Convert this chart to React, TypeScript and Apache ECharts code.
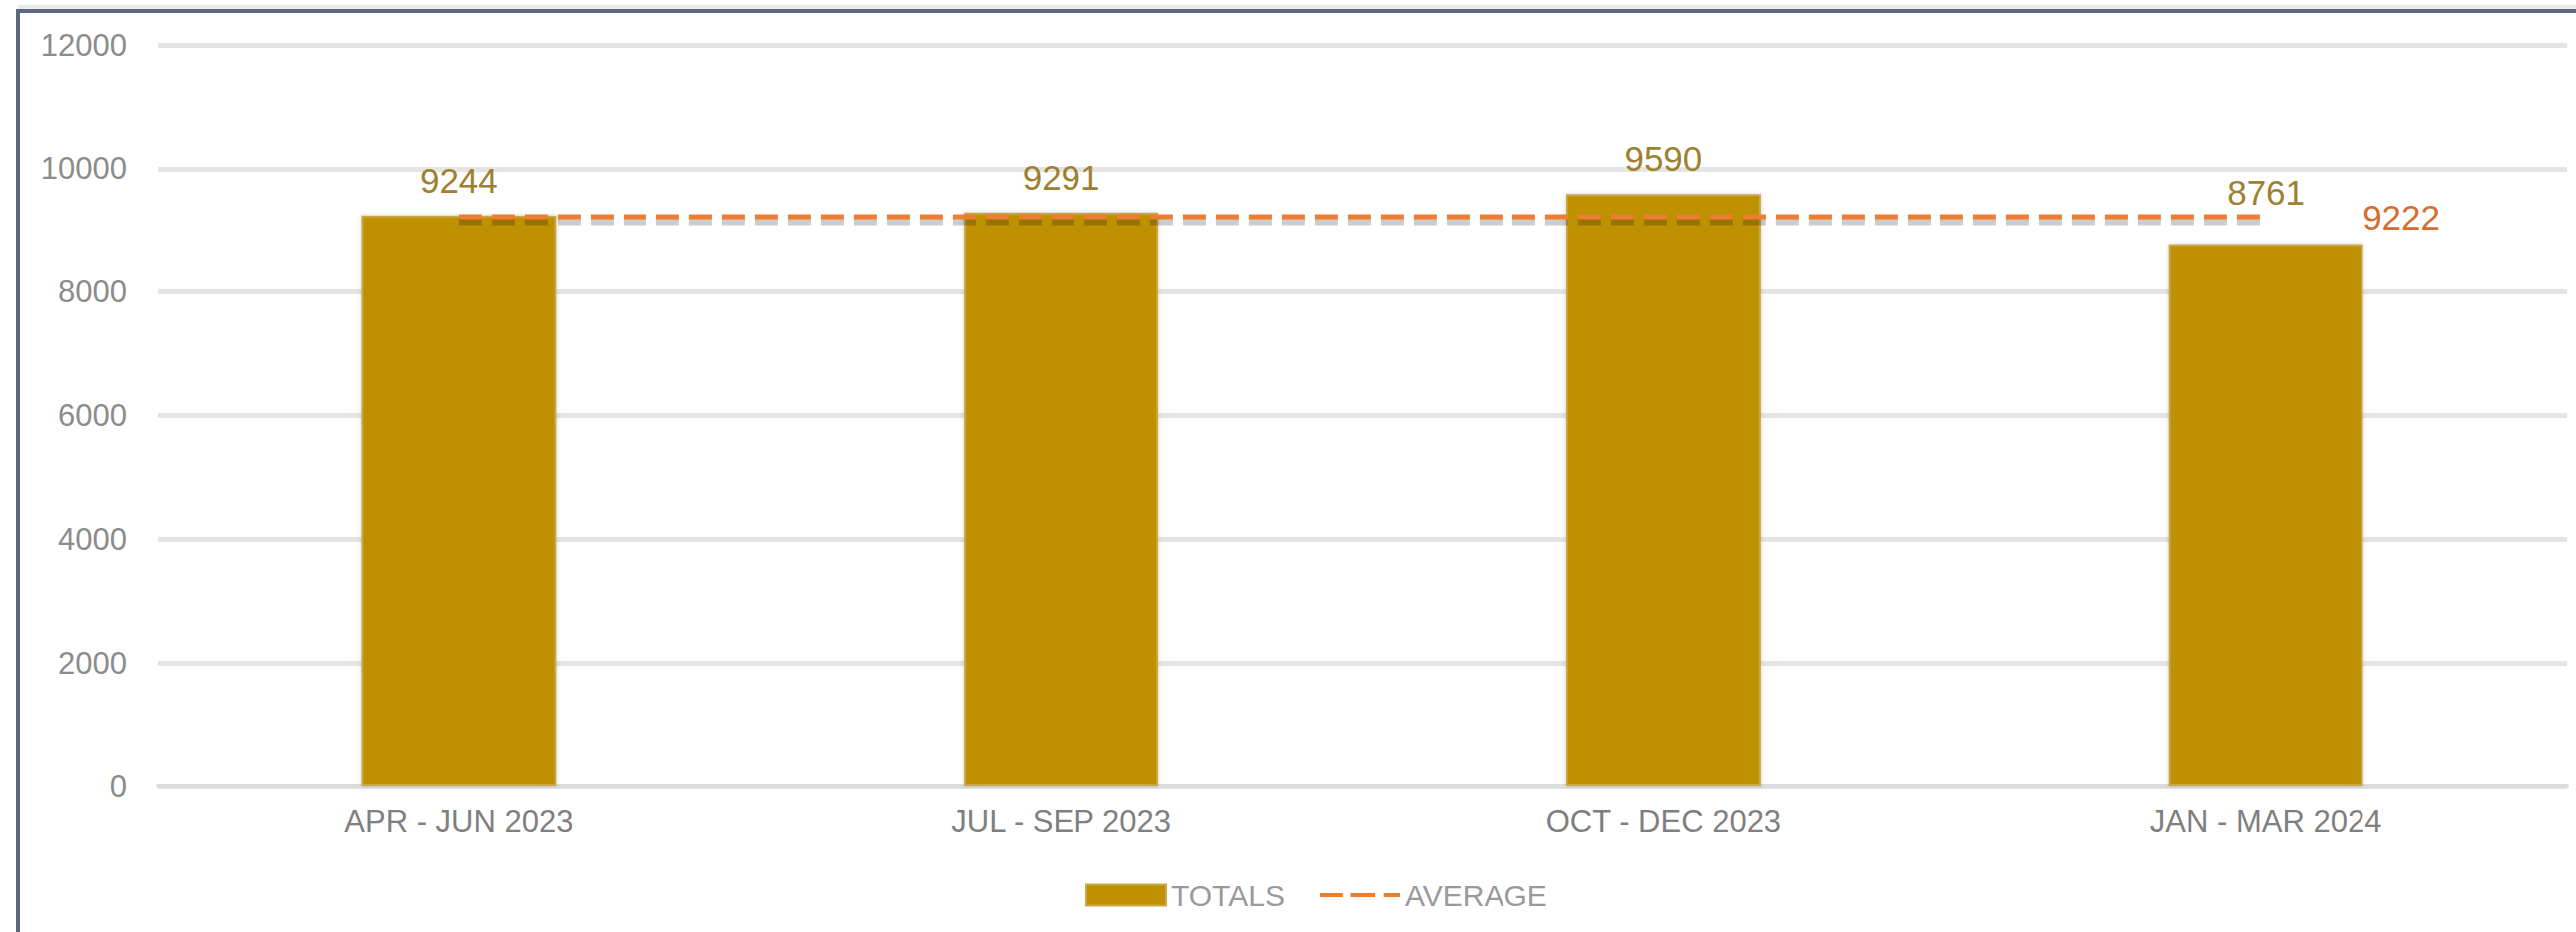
import React, { useEffect, useRef } from "react";
import * as echarts from "echarts";

const categories = ["APR - JUN 2023", "JUL - SEP 2023", "OCT - DEC 2023", "JAN - MAR 2024"];
const totalsValues = [9244, 9291, 9590, 8761];
const averageValues = [9222, 9222, 9222, 9222];
const yTicks = { min: 0, max: 12000, interval: 2000 };

const FONT = "'Liberation Sans', Arial, sans-serif";
const DASH_ICON =
  "path://M0,0h0.01v0.01h-0.01z M0,8.5h24v4h-24z M32,8.5h26v4h-26z M67,8.5h17v4h-17z M83.99,20.99h0.01v0.01h-0.01z";

export default function App() {
  const ref = useRef<HTMLDivElement>(null);
  useEffect(() => {
    if (!ref.current) return;
    const chart = echarts.init(ref.current, undefined, { renderer: "svg" });
    const barData = totalsValues.map((v, i) =>
      i === 3 ? { value: v, label: { distance: 36 } } : { value: v }
    );
    const dash = [23, 10];
    chart.setOption({
      animation: false,
      backgroundColor: "#ffffff",
      textStyle: { fontFamily: FONT },
      grid: [
        { left: 158, right: 9, top: 45, bottom: 146, containLabel: false },
        { left: 158, right: 9, top: 50, bottom: 141, containLabel: false },
      ],
      legend: {
        left: 1083,
        top: 877,
        itemWidth: 80,
        itemHeight: 21,
        itemGap: 35,
        textStyle: { fontSize: 30, color: "#9a9a9a", fontFamily: FONT },
        data: [
          { name: "TOTALS", icon: "rect" },
          { name: "AVERAGE", icon: DASH_ICON, itemStyle: { color: "#ED7D31" } },
        ],
      },
      xAxis: [
        {
          type: "category",
          data: categories,
          axisTick: { show: false },
          axisLine: { show: true, lineStyle: { color: "#dcdcdc", width: 4 } },
          axisLabel: { fontSize: 31, color: "#7f7f7f", margin: 20, fontFamily: FONT },
        },
        {
          type: "category",
          gridIndex: 1,
          data: categories,
          show: false,
        },
      ],
      yAxis: [
        {
          type: "value",
          min: yTicks.min,
          max: yTicks.max,
          interval: yTicks.interval,
          axisLine: { show: false },
          axisTick: { show: false },
          axisLabel: {
            fontSize: 31,
            color: "#8c8c8c",
            margin: 31,
            fontFamily: FONT,
            formatter: (v: number) => String(v),
          },
          splitLine: { lineStyle: { color: "#e4e4e4", width: 5 } },
        },
        {
          type: "value",
          gridIndex: 1,
          min: yTicks.min,
          max: yTicks.max,
          interval: yTicks.interval,
          show: false,
          splitLine: { show: false },
        },
      ],
      series: [
        {
          name: "TOTALS",
          type: "bar",
          data: barData,
          barWidth: 195,
          itemStyle: {
            color: "#BF9000",
            borderColor: "#C9A646",
            borderWidth: 2,
            shadowColor: "rgba(0,0,0,0.18)",
            shadowBlur: 4,
          },
          label: {
            show: true,
            position: "top",
            distance: 18,
            fontSize: 35,
            color: "#9E812E",
            fontFamily: FONT,
          },
          z: 2,
        },
        {
          name: "avg-shadow",
          type: "line",
          xAxisIndex: 1,
          yAxisIndex: 1,
          data: averageValues,
          symbol: "none",
          silent: true,
          lineStyle: { color: "rgba(0,0,0,0.2)", width: 7, type: dash },
          z: 4,
        },
        {
          name: "AVERAGE",
          type: "line",
          data: averageValues,
          symbol: "none",
          showSymbol: false,
          lineStyle: { color: "#ED7D31", width: 5, type: dash },
          itemStyle: { color: "#ED7D31" },
          endLabel: {
            show: true,
            distance: 97,
            fontSize: 35,
            color: "#D46E2F",
            fontFamily: FONT,
            formatter: (p: any) => String(p.value),
          },
          z: 5,
        },
      ],
      graphic: [
        {
          type: "rect",
          left: 18,
          top: 5,
          shape: { width: 2600, height: 4 },
          style: { fill: "#e9ebef" },
          silent: true,
        },
        {
          type: "rect",
          x: 0,
          y: 0,
          shape: { x: 18, y: 11, width: 2700, height: 1100 },
          style: { fill: "none", stroke: "#5b6a80", lineWidth: 4 },
          silent: true,
        },
      ],
    });
    return () => chart.dispose();
  }, []);
  return (
    <div
      ref={ref}
      style={{ position: "fixed", left: 0, top: 0, width: 2582, height: 934 }}
    />
  );
}
